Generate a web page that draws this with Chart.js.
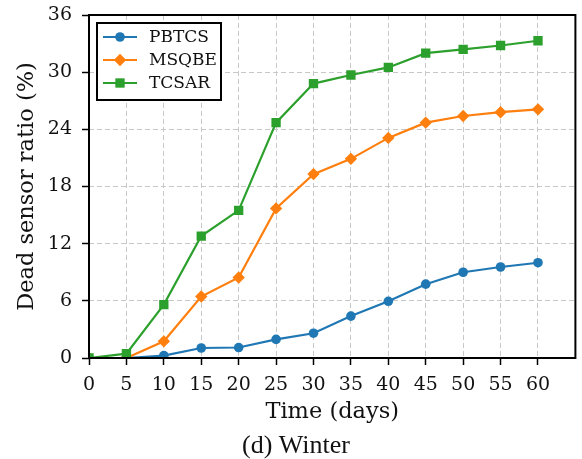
<!DOCTYPE html>
<html>
<head>
<meta charset="utf-8">
<script src="https://cdn.jsdelivr.net/npm/chart.js@4"></script>
<style>
  html, body { margin: 0; padding: 0; background: #fff; }
  #wrap { width: 582px; height: 459px; }
</style>
</head>
<body>
<div id="wrap"><canvas id="c" width="582" height="459"></canvas></div>
<script>
const days = [0, 5, 10, 15, 20, 25, 30, 35, 40, 45, 50, 55, 60];
const pbtcs = [0, 0, 0.25, 1.05, 1.1, 1.95, 2.6, 4.4, 5.95, 7.75, 9.0, 9.55, 10.0];
const msqbe = [0, 0, 1.75, 6.45, 8.45, 15.7, 19.3, 20.9, 23.1, 24.7, 25.4, 25.8, 26.1];
const tcsar = [0, 0.45, 5.6, 12.8, 15.5, 24.7, 28.8, 29.7, 30.5, 32.0, 32.4, 32.8, 33.3];
const seriesNames = ['PBTCS', 'MSQBE', 'TCSAR'];
const yTicks = [0, 6, 12, 18, 24, 30, 36];
const xTicks = [0, 5, 10, 15, 20, 25, 30, 35, 40, 45, 50, 55, 60];
const xLabel = 'Time (days)';
const yLabel = 'Dead sensor ratio (%)';
const caption = '(d) Winter';

const colors = ['#1f77b4', '#ff7f0e', '#2ca02c'];
const styles = ['circle', 'rectRot', 'rect'];
const radii = [4.8, 6.2, 6.6];
const serif = "'DejaVu Serif', serif";

function pts(arr) { return days.map((d, i) => ({x: d, y: arr[i]})); }

const datasets = [pbtcs, msqbe, tcsar].map((arr, i) => ({
  label: seriesNames[i],
  data: pts(arr),
  borderColor: colors[i],
  backgroundColor: colors[i],
  borderWidth: 2.2,
  pointStyle: styles[i],
  pointRadius: radii[i],
  pointHoverRadius: radii[i],
  pointBorderWidth: 0,
  pointBackgroundColor: colors[i],
  tension: 0,
  clip: 0,
  order: 2 - i
}));

function drawMarker(ctx, style, x, y, r, color) {
  ctx.save();
  ctx.fillStyle = color;
  ctx.beginPath();
  if (style === 'circle') {
    ctx.arc(x, y, r, 0, Math.PI * 2);
  } else if (style === 'rectRot') {
    ctx.moveTo(x, y - r); ctx.lineTo(x + r, y); ctx.lineTo(x, y + r); ctx.lineTo(x - r, y); ctx.closePath();
  } else {
    const s = Math.SQRT1_2 * r;
    ctx.rect(x - s, y - s, 2 * s, 2 * s);
  }
  ctx.fill();
  ctx.restore();
}

const framePlugin = {
  id: 'frame',
  afterDatasetsDraw(chart) {
    const {ctx, chartArea: a} = chart;
    ctx.save();
    ctx.strokeStyle = '#000';
    ctx.lineWidth = 2;
    ctx.strokeRect(a.left, a.top, a.right - a.left, a.bottom - a.top);
    ctx.restore();
  },
  afterDraw(chart) {
    const {ctx} = chart;
    ctx.save();
    const bx = 97, by = 23, bw = 124, bh = 77;
    ctx.fillStyle = '#fff';
    ctx.fillRect(bx, by, bw, bh);
    ctx.strokeStyle = '#000';
    ctx.lineWidth = 2;
    ctx.strokeRect(bx, by, bw, bh);
    const rows = [37, 60, 83];
    ctx.font = "17px " + serif;
    ctx.textBaseline = 'middle';
    ctx.textAlign = 'left';
    chart.data.datasets.forEach((ds, i) => {
      const y = rows[i];
      ctx.strokeStyle = ds.borderColor;
      ctx.lineWidth = 2.2;
      ctx.beginPath();
      ctx.moveTo(103, y); ctx.lineTo(137, y);
      ctx.stroke();
      drawMarker(ctx, ds.pointStyle, 120, y, ds.pointRadius, ds.borderColor);
      ctx.fillStyle = '#111';
      ctx.fillText(ds.label, 149, y + 1);
    });
    ctx.font = "26px 'Liberation Serif', 'Times New Roman', serif";
    ctx.textAlign = 'center';
    ctx.textBaseline = 'alphabetic';
    ctx.fillStyle = '#111';
    ctx.fillText(caption, 296, 453);
    ctx.restore();
  }
};

const gridOpts = {
  color: '#c8c8c8',
  lineWidth: 1,
  tickColor: '#000',
  tickWidth: 1.5,
  tickLength: 7,
  tickBorderDash: []
};

new Chart(document.getElementById('c'), {
  type: 'line',
  data: { datasets },
  options: {
    responsive: false,
    animation: false,
    devicePixelRatio: 1,
    layout: { padding: { top: 15, right: 5, left: 0, bottom: 0 } },
    plugins: { legend: { display: false }, tooltip: { enabled: false } },
    scales: {
      x: {
        type: 'linear',
        min: 0,
        max: 65,
        afterBuildTicks(scale) { scale.ticks = xTicks.map(v => ({value: v})); },
        afterFit(scale) { scale.height = 101; scale.paddingLeft = 0; scale.paddingRight = 0; },
        border: { display: false, dash: [5, 3] },
        grid: gridOpts,
        ticks: { color: '#111', font: { family: serif, size: 19 }, padding: 9, maxRotation: 0, autoSkip: false },
        title: { display: true, text: xLabel, color: '#111', font: { family: serif, size: 22.5 }, padding: { top: 0, bottom: 33.5 } }
      },
      y: {
        type: 'linear',
        min: 0,
        max: 36,
        afterBuildTicks(scale) { scale.ticks = yTicks.map(v => ({value: v})); },
        afterFit(scale) { scale.width = 89; scale.paddingTop = 0; scale.paddingBottom = 0; },
        border: { display: false, dash: [5, 3] },
        grid: gridOpts,
        ticks: { color: '#111', font: { family: serif, size: 19 }, padding: 10, autoSkip: false },
        title: { display: true, text: yLabel, color: '#111', font: { family: serif, size: 22.5 }, padding: { top: 13.5, bottom: 0 } }
      }
    }
  },
  plugins: [framePlugin]
});
</script>
</body>
</html>
